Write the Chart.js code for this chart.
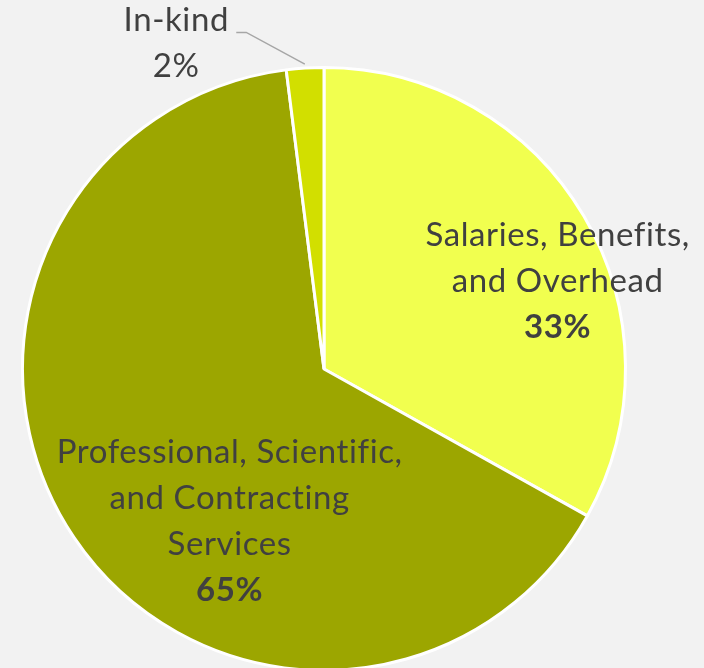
<!DOCTYPE html>
<html>
<head>
<meta charset="utf-8">
<script src="https://cdn.jsdelivr.net/npm/chart.js@4.4.1/dist/chart.umd.min.js"></script>
<style>
  html, body { margin: 0; padding: 0; background: #f2f2f2; overflow: hidden; }
  #wrap { width: 704px; height: 672px; position: relative; }
</style>
</head>
<body>
<div id="wrap"><canvas id="pie"></canvas></div>
<script>
const categories = [
  ['Salaries, Benefits,', 'and Overhead'],
  ['Professional, Scientific,', 'and Contracting', 'Services'],
  ['In-kind']
];
const shares = [33.1, 64.9, 2.0];
const percentLabels = ['33%', '65%', '2%'];
const sliceColors = ['#f1ff4f', '#9ca600', '#d2df00'];

// where each label block sits, relative to the pie centre, in radii
const labelSpots = [
  { x: 0.775, y: -0.29 },
  { x: -0.313, y: 0.505 },
  { x: -0.49, y: -1.08 }
];

const FONT = 'Lato, "Open Sans", sans-serif';

const pieLabels = {
  id: 'pieLabels',
  afterDatasetsDraw(chart) {
    const ctx = chart.ctx;
    const arcs = chart.getDatasetMeta(0).data;
    ctx.save();
    ctx.fillStyle = '#404040';
    ctx.textAlign = 'center';
    ctx.textBaseline = 'middle';
    ctx.letterSpacing = '0.6px';
    const lh = 46;
    arcs.forEach((arc, i) => {
      const r = arc.outerRadius;
      const cx = arc.x + labelSpots[i].x * r;
      const cy = arc.y + labelSpots[i].y * r;
      const lines = categories[i];
      const total = lines.length + 1;
      let y = cy - (total - 1) * lh / 2;
      ctx.font = '33px ' + FONT;
      lines.forEach(t => { ctx.fillText(t, cx, y); y += lh; });
      ctx.font = (i === 2 ? '' : 'bold ') + '33px ' + FONT;
      ctx.fillText(percentLabels[i], cx, y);

      if (i === 2) {
        // leader line from label to slice edge
        const mid = (arc.startAngle + arc.endAngle) / 2;
        const ex = arc.x + Math.cos(mid) * (r + 4);
        const ey = arc.y + Math.sin(mid) * (r + 4);
        ctx.strokeStyle = '#a6a6a6';
        ctx.lineWidth = 1.5;
        ctx.beginPath();
        ctx.moveTo(cx + 60, cy - lh / 2 + 12);
        ctx.lineTo(cx + 70, cy - lh / 2 + 12);
        ctx.lineTo(ex, ey);
        ctx.stroke();
      }
    });
    ctx.restore();
  }
};

new Chart(document.getElementById('pie'), {
  type: 'pie',
  data: {
    labels: categories.map(c => c.join(' ')),
    datasets: [{
      data: shares,
      backgroundColor: sliceColors,
      borderColor: '#ffffff',
      borderWidth: 3
    }]
  },
  options: {
    responsive: true,
    maintainAspectRatio: false,
    animation: false,
    layout: { padding: { top: 66, bottom: 0, left: 21, right: 77 } },
    plugins: {
      legend: { display: false },
      tooltip: { enabled: false }
    }
  },
  plugins: [pieLabels]
});
</script>
</body>
</html>
